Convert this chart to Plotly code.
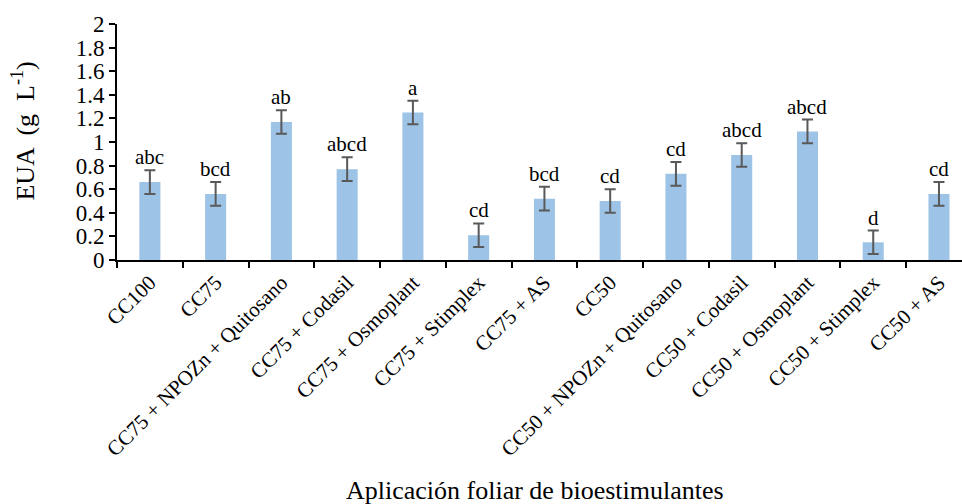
import plotly.graph_objects as go

categories = ["CC100", "CC75", "CC75 + NPOZn + Quitosano", "CC75 + Codasil", "CC75 + Osmoplant",
              "CC75 + Stimplex", "CC75 + AS", "CC50", "CC50 + NPOZn + Quitosano", "CC50 + Codasil",
              "CC50 + Osmoplant", "CC50 + Stimplex", "CC50 + AS"]
values = [0.66, 0.56, 1.17, 0.77, 1.25, 0.21, 0.52, 0.50, 0.73, 0.89, 1.09, 0.15, 0.56]
errors = [0.10, 0.10, 0.10, 0.10, 0.10, 0.10, 0.10, 0.10, 0.10, 0.10, 0.10, 0.10, 0.10]
letters = ["abc", "bcd", "ab", "abcd", "a", "cd", "bcd", "cd", "cd", "abcd", "abcd", "d", "cd"]
y_ticks = [0, 0.2, 0.4, 0.6, 0.8, 1, 1.2, 1.4, 1.6, 1.8, 2]

FONT = "Liberation Serif, Times New Roman, serif"

fig = go.Figure()
fig.add_trace(go.Bar(
    x=categories, y=values, width=0.32,
    marker=dict(color="#9DC3E6", line=dict(width=0)),
    error_y=dict(type="data", array=errors, visible=True, color="#595959", thickness=2, width=5.5),
))

for c, v, e, t in zip(categories, values, errors, letters):
    fig.add_annotation(x=c, y=v + e, text=t, showarrow=False, yanchor="bottom", yshift=-1,
                       font=dict(family=FONT, size=21, color="black"))

fig.add_annotation(xref="paper", yref="paper", x=-0.111, y=0.545, text="EUA  (g  L<sup>-1</sup>)",
                   xanchor="center", yanchor="middle",
                   textangle=-90, showarrow=False, font=dict(family=FONT, size=26, color="black"))
fig.add_annotation(xref="paper", yref="paper", x=0.495, y=-0.975, text="Aplicación foliar de bioestimulantes",
                   xanchor="center", showarrow=False, yanchor="middle",
                   font=dict(family=FONT, size=26, color="black"))

fig.update_layout(
    width=962, height=504,
    margin=dict(l=117, r=0, t=24, b=244),
    paper_bgcolor="white", plot_bgcolor="white",
    showlegend=False,
    font=dict(family=FONT, color="black"),
    xaxis=dict(type="category", range=[-0.5, 12.35], showline=True, linecolor="black", linewidth=2,
               ticks="outside", tickson="boundaries", ticklen=6, tickwidth=2, tickcolor="black",
               tickangle=-45, tickfont=dict(family=FONT, size=21, color="black"), showgrid=False,
               automargin=False),
    yaxis=dict(range=[0, 2], tickvals=y_ticks, ticktext=[f"{v:g}" for v in y_ticks],
               showline=True, linecolor="black", linewidth=2, ticks="outside", ticklen=6, tickwidth=2,
               tickcolor="black", tickfont=dict(family=FONT, size=23, color="black"), showgrid=False,
               zeroline=False, automargin=False),
)

fig.write_html("out.html")
